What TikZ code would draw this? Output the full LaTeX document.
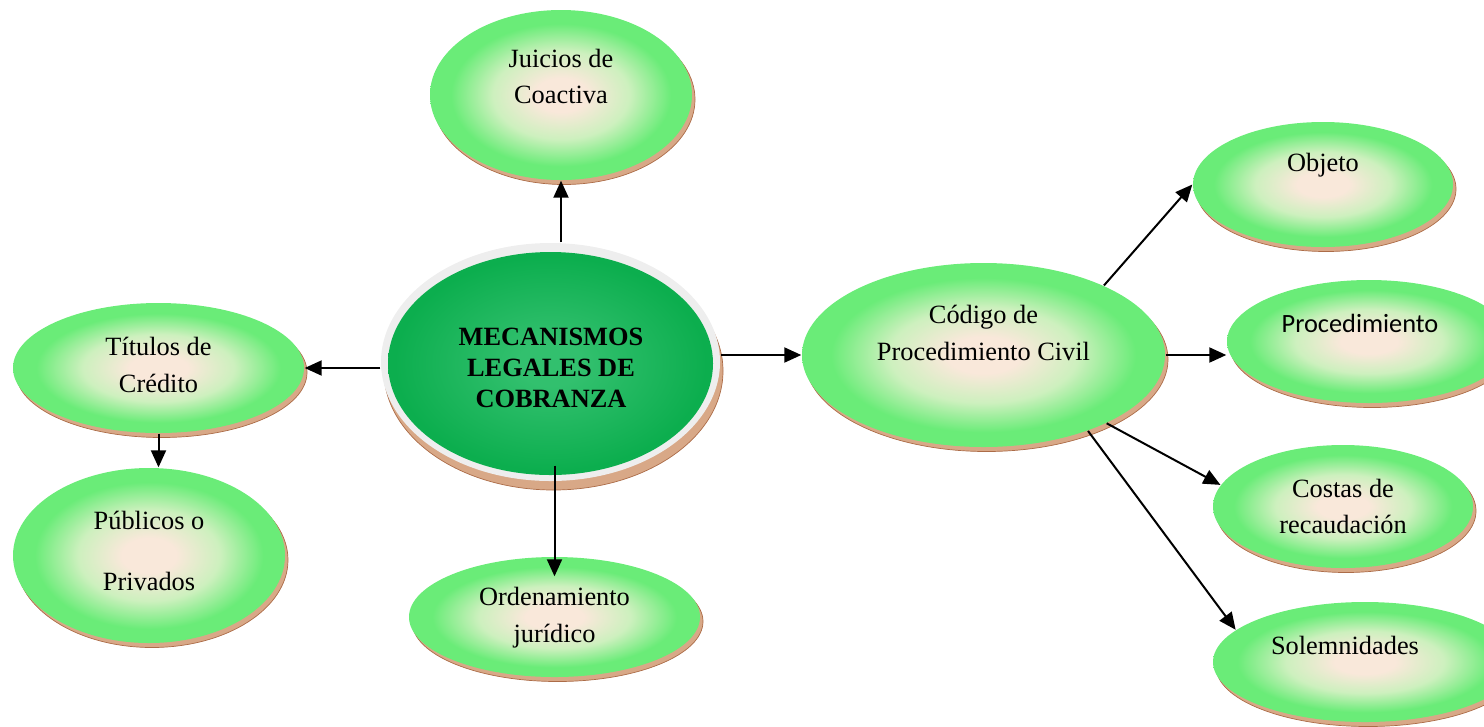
\documentclass[tikz,border=0pt]{standalone}
\usepackage{fontspec}
\setmainfont{Liberation Serif}
\newfontfamily\calibrifont{Carlito}
\usetikzlibrary{shapes.geometric}
\usetikzlibrary{shadows}
\usetikzlibrary{arrows.meta}

\definecolor{bubblecore}{RGB}{249,232,218}
\definecolor{bubblemid}{RGB}{205,240,190}
\definecolor{bubbleedge}{RGB}{106,236,120}
\definecolor{hubcore}{RGB}{50,192,110}
\definecolor{hubedge}{RGB}{12,174,78}
\definecolor{hubrim}{RGB}{238,238,238}
\definecolor{shadowtan}{RGB}{216,168,135}
\definecolor{shadowline}{RGB}{172,108,72}

\pgfdeclareradialshading{bubbleshade}{\pgfpoint{0bp}{0bp}}{color(0bp)=(bubblecore); color(5bp)=(bubblecore); color(13bp)=(bubblemid); color(21bp)=(bubbleedge); color(25bp)=(bubbleedge); color(50bp)=(bubbleedge)}
\pgfdeclareradialshading{hubshade}{\pgfpoint{0bp}{0bp}}{color(0bp)=(hubcore); color(5bp)=(hubcore); color(24bp)=(hubedge); color(50bp)=(hubedge)}

\tikzset{
  bubble/.style={ellipse, inner sep=0pt, shading=bubbleshade,
    general shadow={fill=shadowtan, draw=shadowline, line width=0.2pt, shadow xshift=0.03cm, shadow yshift=-0.045cm}},
  hubring/.style={ellipse, inner sep=0pt, fill=hubrim, minimum width=3.39cm, minimum height=2.38cm,
    general shadow={fill=shadowtan, draw=shadowline, line width=0.2pt, shadow xshift=0.03cm, shadow yshift=-0.09cm}},
  hubfill/.style={ellipse, inner sep=0pt, shading=hubshade, minimum width=3.25cm, minimum height=2.23cm},
  lbl/.style={font=\fontsize{7.5}{10.5}\selectfont, align=center, inner sep=0pt},
  lblsans/.style={font=\calibrifont\fontsize{7.5}{10.5}\selectfont, align=center, inner sep=0pt},
  hublbl/.style={font=\fontsize{7.5}{8.8}\selectfont\bfseries, align=center, inner sep=0pt},
  arr/.style={line width=0.57pt, -{Triangle[length=0.17cm, width=0.15cm]}}
}

\begin{document}
\begin{tikzpicture}
\useasboundingbox (0,0) rectangle (14.84,7.26);

% central node
\node[hubring] (cm) at (5.505,3.64) {};
\node[hubfill] (cmg) at (5.505,3.625) {};
\node[hublbl] (cmt) at (5.51,3.585) {MECANISMOS\\LEGALES DE\\COBRANZA};

% left and vertical branches
\node[bubble, minimum width=2.62cm, minimum height=1.70cm] (jc) at (5.61,6.31) {};
\node[lbl] (jct) at (5.61,6.495) {Juicios de\\Coactiva};
\node[bubble, minimum width=2.91cm, minimum height=1.30cm] (tc) at (1.585,3.58) {};
\node[lbl] (tct) at (1.585,3.615) {Títulos de\\Crédito};
\node[bubble, minimum width=2.72cm, minimum height=1.75cm] (pp) at (1.49,1.705) {};
\node[lbl] (ppt) at (1.49,1.75) {Públicos o\\[7.1pt]Privados};
\node[bubble, minimum width=2.91cm, minimum height=1.20cm] (oj) at (5.545,1.09) {};
\node[lbl] (ojt) at (5.545,1.085) {Ordenamiento\\jurídico};

% right branch
\node[bubble, minimum width=3.63cm, minimum height=1.84cm] (cp) at (9.835,3.71) {};
\node[lbl] (cpt) at (9.835,3.935) {Código de\\Procedimiento Civil};
\node[bubble, minimum width=2.60cm, minimum height=1.25cm] (ob) at (13.23,5.415) {};
\node[lbl] (obt) at (13.23,5.61) {Objeto};
\node[bubble, minimum width=2.84cm, minimum height=1.23cm] (pr) at (13.69,3.845) {};
\node[lblsans] (prt) at (13.60,4.03) {Procedimiento};
\node[bubble, minimum width=2.60cm, minimum height=1.23cm] (cr) at (13.43,2.195) {};
\node[lbl] (crt) at (13.43,2.195) {Costas de\\recaudación};
\node[bubble, minimum width=3.04cm, minimum height=1.20cm] (so) at (13.65,0.64) {};
\node[lbl] (sot) at (13.45,0.81) {Solemnidades};

% arrows
\draw[arr] (cm.north -| jc.south) -- (jc.south);
\draw[arr, shorten <=-0.16cm, shorten >=-0.2cm] (cm.south -| oj.north) -- (oj.north);
\draw[arr] (cm.west |- tc.east) -- (tc.east);
\draw[arr] (cm.east |- cp.west) -- (cp.west);
\draw[arr] (tc.south) -- (tc.south |- pp.north);
\draw[arr] (cp.30) -- (ob.west);
\draw[arr] (cp.east) -- (cp.east -| pr.west);
\draw[arr] (cp.-29) -- (cr.170);
\draw[arr] (cp.-36) -- (so.166);

\end{tikzpicture}
\end{document}
